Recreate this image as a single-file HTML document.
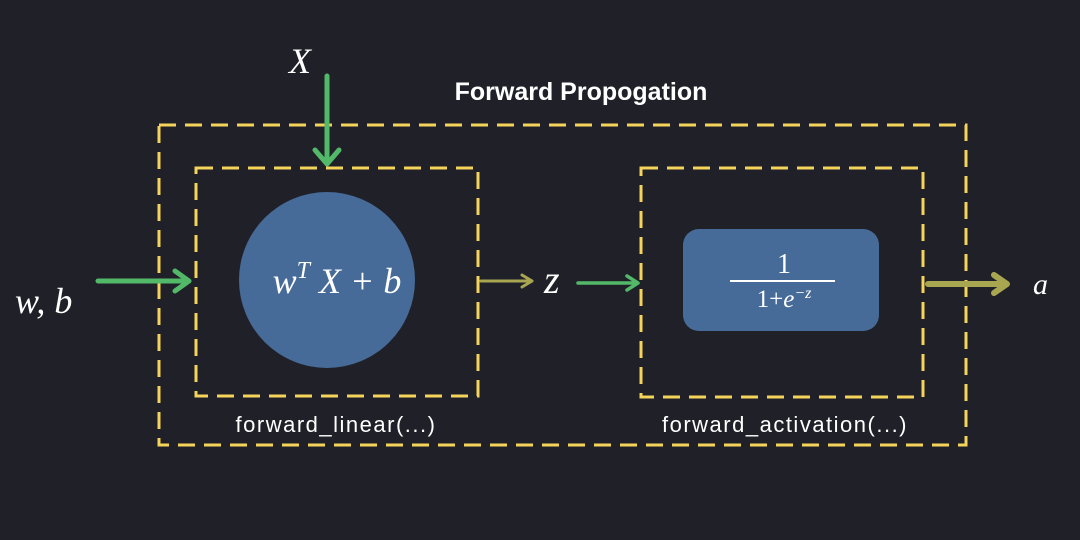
<!DOCTYPE html>
<html><head><meta charset="utf-8"><style>
html,body{margin:0;padding:0;background:#202029;}
svg{display:block}
.m{font-family:"Liberation Serif",serif;font-style:italic;fill:#fff}
.s{font-family:"Liberation Sans","DejaVu Sans",sans-serif;fill:#fff}
</style></head><body>
<svg width="1080" height="540" viewBox="0 0 1080 540">
<rect width="1080" height="540" fill="#202029"/>
<text class="s" x="581" y="100" font-size="25" font-weight="bold" text-anchor="middle">Forward Propogation</text>
<rect x="159" y="125" width="807" height="320" fill="none" stroke="#f5d45c" stroke-width="3" stroke-dasharray="17,9"/>
<rect x="196" y="168" width="282" height="228" fill="none" stroke="#f5d45c" stroke-width="3" stroke-dasharray="17,9"/>
<rect x="641" y="168" width="282" height="229" fill="none" stroke="#f5d45c" stroke-width="3" stroke-dasharray="17,9"/>
<circle cx="327" cy="280" r="88" fill="#466b98"/>
<text class="m" x="337" y="293" font-size="36" text-anchor="middle">w<tspan dy="-15" font-size="24">T</tspan><tspan dy="15"> X + b</tspan></text>
<rect x="683" y="229" width="196" height="102" rx="16" fill="#466b98"/>
<text class="m" x="784" y="273" font-size="28" style="font-style:normal" text-anchor="middle">1</text>
<line x1="730" y1="281" x2="835" y2="281" stroke="#fff" stroke-width="2"/>
<text class="m" x="784" y="307" font-size="25" text-anchor="middle"><tspan style="font-style:normal">1+</tspan>e<tspan dy="-9" font-size="16">−z</tspan></text>
<text class="m" x="289" y="73" font-size="36">X</text>
<text class="m" x="15" y="313" font-size="36">w, b</text>
<text class="m" x="544" y="293" font-size="40">z</text>
<text class="m" x="1033" y="294" font-size="30">a</text>
<g fill="none" stroke-linecap="round" stroke-linejoin="round">
<path d="M327 76 L327 163 M315 150 L327 164 L339 150" stroke="#52b968" stroke-width="5"/>
<path d="M98 281 L189 281 M175 271 L189 281 L175 291" stroke="#52b968" stroke-width="5"/>
<path d="M481 281 L532 281 M522 275 L532 281 L522 287" stroke="#a9a652" stroke-width="3"/>
<path d="M578 283 L638 283 M627 276 L638 283 L627 290" stroke="#52b968" stroke-width="3.5"/>
<path d="M928 284 L1005 284 M994 275 L1007 284 L994 293" stroke="#a9a652" stroke-width="6"/>
</g>
<text class="s" x="336" y="432" font-size="22" letter-spacing="1.5" text-anchor="middle">forward_linear(...)</text>
<text class="s" x="785" y="432" font-size="22" letter-spacing="1.5" text-anchor="middle">forward_activation(...)</text>
</svg>
</body></html>
